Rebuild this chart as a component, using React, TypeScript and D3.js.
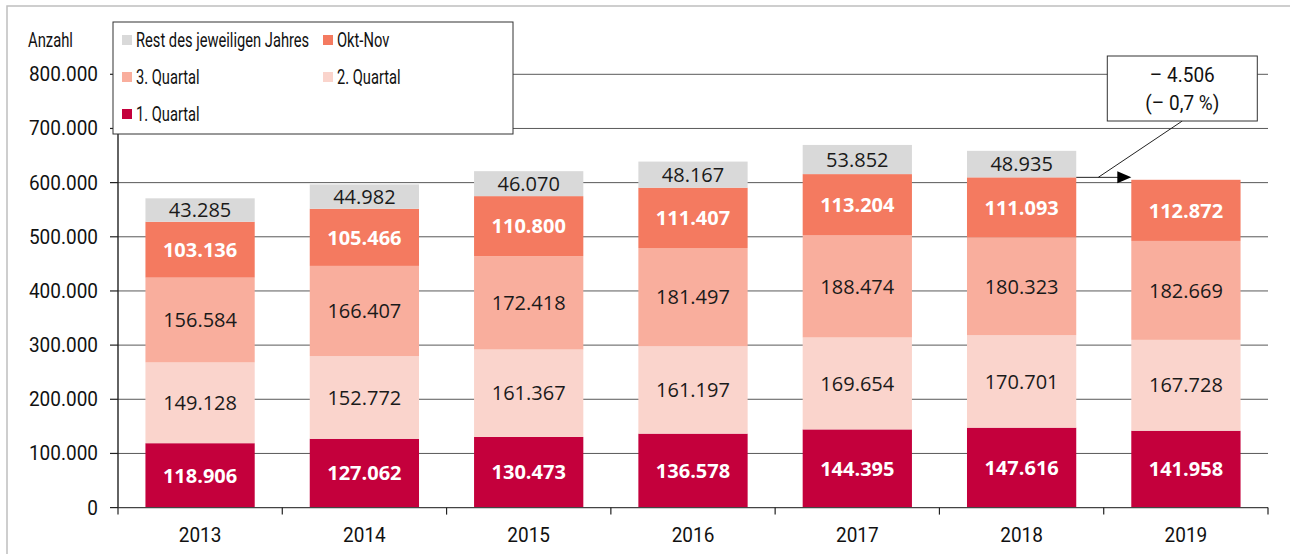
import React from 'react'
import * as d3 from 'd3'

const years = ['2013', '2014', '2015', '2016', '2017', '2018', '2019']
const q1 = [118906, 127062, 130473, 136578, 144395, 147616, 141958]
const q2 = [149128, 152772, 161367, 161197, 169654, 170701, 167728]
const q3 = [156584, 166407, 172418, 181497, 188474, 180323, 182669]
const oktNov = [103136, 105466, 110800, 111407, 113204, 111093, 112872]
const rest = [43285, 44982, 46070, 48167, 53852, 48935, 0]
const yTicks = [0, 100000, 200000, 300000, 400000, 500000, 600000, 700000, 800000]
const diffLines = ['– 4.506', '(– 0,7 %)']

const series = [
	{ key: 'q1', name: '1. Quartal', values: q1, color: '#C4003C', bold: true },
	{ key: 'q2', name: '2. Quartal', values: q2, color: '#FAD4CC', bold: false },
	{ key: 'q3', name: '3. Quartal', values: q3, color: '#F9AE9D', bold: false },
	{ key: 'okt', name: 'Okt-Nov', values: oktNov, color: '#F47A60', bold: true },
	{ key: 'rest', name: 'Rest des jeweiligen Jahres', values: rest, color: '#D9D9D9', bold: false }
]

const W = 1290
const H = 554
const left = 118
const right = 1268
const top = 74.3
const bottom = 507.6

const fmt = (v: number) => d3.format(',')(v).replace(/,/g, '.')
const labelFont = '"Open Sans", sans-serif'
const narrowFont = 'Roboto, sans-serif'

// schmale Schrift: Roboto horizontal gestaucht
const NText: React.FC<{
	x: number
	y: number
	sx?: number
	size?: number
	anchor?: string
	children: React.ReactNode
}> = ({ x, y, sx = 0.95, size = 20, anchor = 'start', children }) => (
	<text
		transform={`translate(${x},${y}) scale(${sx},1)`}
		dy="0.35em"
		textAnchor={anchor}
		fontFamily={narrowFont}
		fontSize={size}
		fill="#111"
	>
		{children}
	</text>
)

const App = () => {
	const x = d3.scaleBand().domain(years).range([left, right]).paddingInner(0.335).paddingOuter(0.167)
	const y = d3.scaleLinear().domain([0, 800000]).range([bottom, top])

	const table = years.map((yr, i) => {
		const row: any = { year: yr }
		series.forEach(s => (row[s.key] = s.values[i]))
		return row
	})
	const stacked = d3.stack<any>().keys(series.map(s => s.key))(table)

	const step = (right - left) / years.length
	const bw = x.bandwidth()

	// Vergleich 2018 (ohne Rest) mit 2019
	const cmp2018 = q1[5] + q2[5] + q3[5] + oktNov[5]
	const arrowY = y(cmp2018)
	const x18 = (x('2018') as number) + bw
	const x19 = x('2019') as number
	const boxX = x19 - 24
	const boxW = 150
	const boxY = 56
	const boxH = 65

	const legendRows = [
		[series[4], series[3]],
		[series[2], series[1]],
		[series[0]]
	]

	return (
		<div style={{ position: 'fixed', left: 0, top: 0 }}>
			<svg width={W} height={H} style={{ display: 'block', background: '#fff' }}>
				<rect x={7} y={6} width={W + 20} height={H + 20} fill="none" stroke="#BFBFBF" strokeWidth={1.5} />

				{/* Gitter */}
				<g>
					{yTicks.map(t => (
						<g key={t}>
							{t > 0 && (
								<line x1={left} x2={right} y1={y(t)} y2={y(t)} stroke="#595959" strokeWidth={1} />
							)}
							<line x1={left - 8} x2={left} y1={y(t)} y2={y(t)} stroke="#222" strokeWidth={1.2} />
							<NText x={98} y={y(t)} anchor="end">
								{fmt(t)}
							</NText>
						</g>
					))}
				</g>

				{/* Balken */}
				{stacked.map((layer, li) => (
					<g key={layer.key}>
						{layer.map((d, i) =>
							d[1] - d[0] > 0 ? (
								<rect
									key={i}
									x={x(years[i])}
									y={y(d[1])}
									width={bw}
									height={y(d[0]) - y(d[1])}
									fill={series[li].color}
								/>
							) : null
						)}
					</g>
				))}
				{stacked.map((layer, li) => (
					<g key={layer.key + '-lbl'}>
						{layer.map((d, i) =>
							d[1] - d[0] > 0 ? (
								<text
									key={i}
									x={(x(years[i]) as number) + bw / 2}
									y={(y(d[0]) + y(d[1])) / 2}
									dy="0.36em"
									textAnchor="middle"
									fontFamily={labelFont}
									fontSize={20}
									fontWeight={series[li].bold ? 700 : 400}
									fill={series[li].bold ? '#fff' : '#1a1a1a'}
								>
									{fmt(d[1] - d[0])}
								</text>
							) : null
						)}
					</g>
				))}

				{/* Achsen */}
				<line x1={left} x2={left} y1={top} y2={bottom} stroke="#222" strokeWidth={1.4} />
				<line x1={left} x2={right} y1={bottom} y2={bottom} stroke="#444" strokeWidth={1.4} />
				{d3.range(years.length + 1).map(i => (
					<line
						key={i}
						x1={left + i * step}
						x2={left + i * step}
						y1={bottom}
						y2={bottom + 7}
						stroke="#222"
						strokeWidth={1.2}
					/>
				))}
				{years.map(yr => (
					<NText key={yr} x={(x(yr) as number) + bw / 2} y={535} anchor="middle">
						{yr}
					</NText>
				))}
				<NText x={28} y={40} sx={0.74}>
					Anzahl
				</NText>

				{/* Legende */}
				<g>
					<rect x={113} y={22} width={400} height={112} fill="#fff" stroke="#333" strokeWidth={1} />
					{legendRows.map((row, ri) =>
						row.map((s, ci) => (
							<g key={s.key} transform={`translate(${122 + ci * 201}, ${40 + ri * 37})`}>
								<rect x={0} y={-5} width={10} height={10} fill={s.color} />
								<NText x={14} y={0} sx={0.7} size={21}>
									{s.name}
								</NText>
							</g>
						))
					)}
				</g>

				{/* Differenz 2018/2019 */}
				<g>
					<line x1={x18} x2={x19 - 12} y1={arrowY} y2={arrowY} stroke="#222" strokeWidth={1} />
					<path d={`M${x19},${arrowY} L${x19 - 14},${arrowY - 6} L${x19 - 14},${arrowY + 6} Z`} fill="#000" />
					<line x1={boxX + 75} y1={boxY + boxH} x2={x18 + 22} y2={arrowY} stroke="#222" strokeWidth={1} />
					<rect x={boxX} y={boxY} width={boxW} height={boxH} fill="#fff" stroke="#333" strokeWidth={1} />
					{diffLines.map((t, i) => (
						<NText key={i} x={boxX + boxW / 2} y={boxY + 19 + i * 28} anchor="middle">
							{t}
						</NText>
					))}
				</g>
			</svg>
		</div>
	)
}

export default App
